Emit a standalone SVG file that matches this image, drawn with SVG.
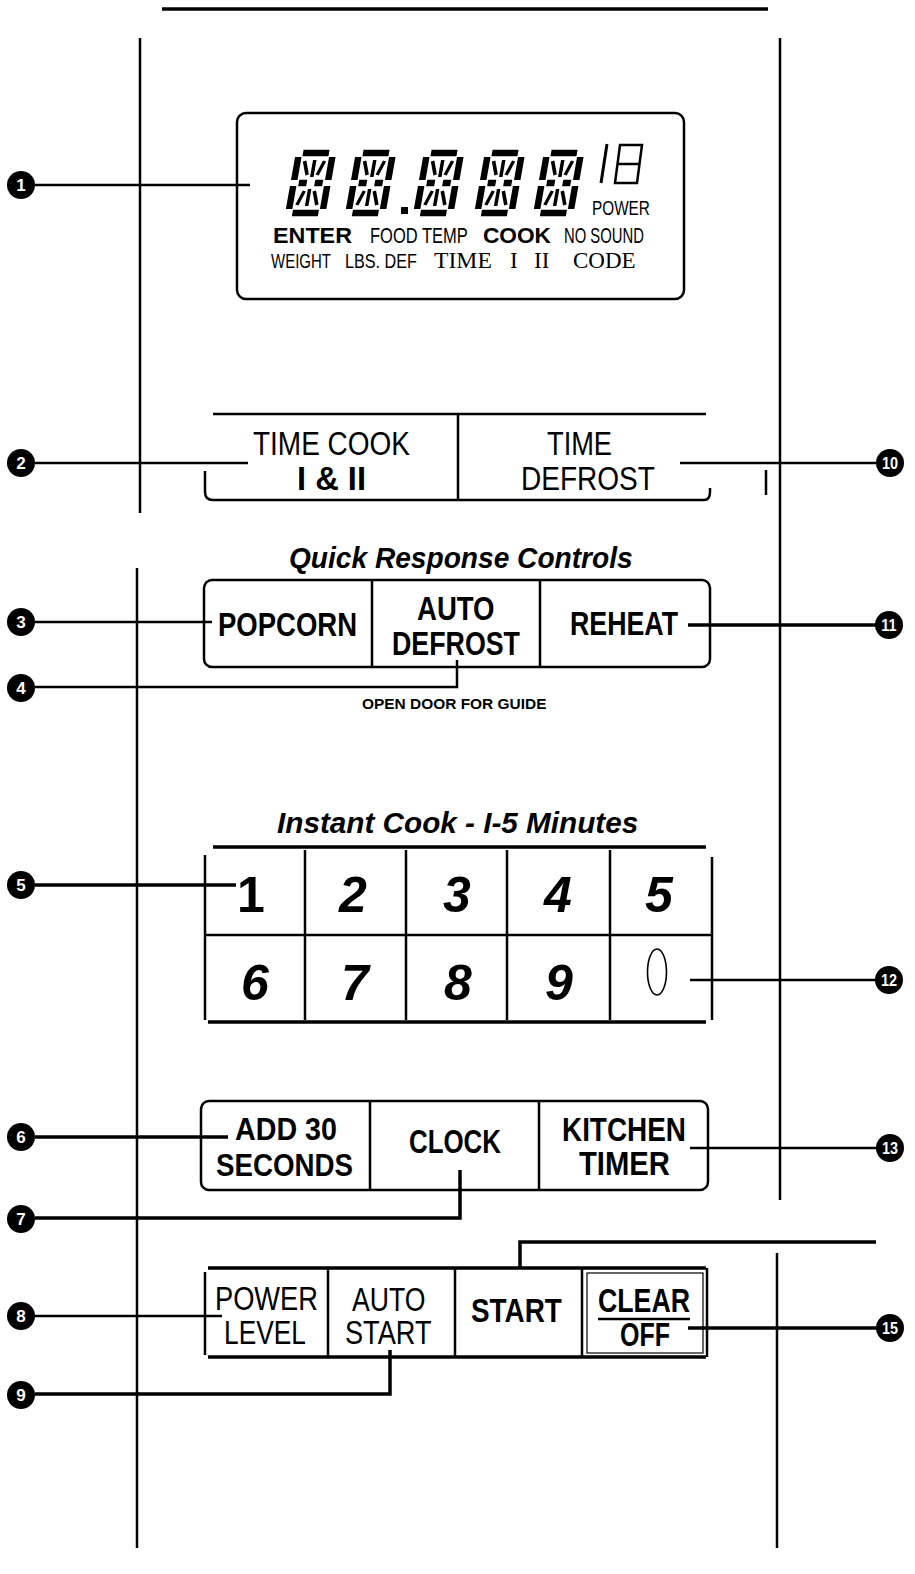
<svg xmlns="http://www.w3.org/2000/svg" xmlns:xlink="http://www.w3.org/1999/xlink" width="915" height="1574" viewBox="0 0 915 1574">
<style>
.ln{stroke:#000;stroke-width:2.5;fill:none}
.th{stroke:#000;stroke-width:3.5;fill:none}
.frame{stroke:#000;stroke-width:2.5;fill:none}
.t{font-family:"Liberation Sans",Arial,sans-serif;fill:#000}
.b{font-weight:bold}
.s{font-family:"Liberation Serif","Times New Roman",serif;fill:#000}
.num{font-family:"Liberation Sans",Arial,sans-serif;font-weight:bold;fill:#fff;font-size:17px;text-anchor:middle}
.seg{stroke:#000;stroke-width:6.5;fill:none}
.dg{stroke:#000;stroke-width:3.5;fill:none}
</style>
<defs>
<g id="dig">
<path class="seg" d="M4 0H30M0 4V27M0 33V56M34 4V27M34 33V56M4 60H30M5 30H13M21 30H29"/>
<path class="dg" d="M17 7V24M17 36V53M7 8L12 22M27 8L22 22M7 52L12 38M27 52L22 38"/>
</g>
<circle id="cc" r="14" fill="#000"/>
</defs>

<g id="panel">
<path class="th" d="M162 9H768"/>
<path class="ln" d="M140 38V513M137 568V1548M780 38V1200M777 1253V1548M766 470V495"/>
</g>

<g id="display">
<rect x="237" y="113" width="447" height="186" rx="9" class="frame" stroke-width="3"/>
<use xlink:href="#dig" transform="translate(299,153) skewX(-10)"/>
<use xlink:href="#dig" transform="translate(359,153) skewX(-10)"/>
<rect x="401" y="207" width="7" height="7" fill="#000"/>
<use xlink:href="#dig" transform="translate(427,153) skewX(-10)"/>
<use xlink:href="#dig" transform="translate(488,153) skewX(-10)"/>
<use xlink:href="#dig" transform="translate(547,153) skewX(-10)"/>
<path d="M607 144L601 183" stroke="#000" stroke-width="3"/>
<path d="M620 145H642L637 183H615ZM617.5 164H639.5" stroke="#000" stroke-width="2.5" fill="none"/>
<text class="t" font-size="21" transform="translate(592,215) scale(0.73,1)">POWER</text>
<text class="t b" font-size="22" transform="translate(273,243) scale(1.06,1)">ENTER</text>
<text class="t" font-size="22" transform="translate(370,243) scale(0.75,1)">FOOD TEMP</text>
<text class="t b" font-size="22" transform="translate(483,243) scale(1.03,1)">COOK</text>
<text class="t" font-size="22" transform="translate(564,243) scale(0.675,1)">NO SOUND</text>
<text class="t" font-size="21" transform="translate(271,268) scale(0.714,1)">WEIGHT</text>
<text class="t" font-size="21" transform="translate(345,268) scale(0.77,1)">LBS. DEF</text>
<text class="s" font-size="23" transform="translate(434,268) scale(1.03,1)">TIME</text>
<text class="s" x="510" y="268" font-size="23">I</text>
<text class="s" x="534" y="268" font-size="23">II</text>
<text class="s" x="573" y="268" font-size="23">CODE</text>
</g>

<g id="time-row">
<path class="ln" d="M213 414H706M458 414V500M205 471V492Q205 500 213 500H704Q710 500 710 492V488"/>
<text class="t" font-size="33" transform="translate(253,455) scale(0.848,1)">TIME COOK</text>
<text class="t b" font-size="33" transform="translate(297,490) scale(0.99,1)">I &amp; II</text>
<text class="t" font-size="33" transform="translate(547,455) scale(0.825,1)">TIME</text>
<text class="t" font-size="33" transform="translate(521,490) scale(0.85,1)">DEFROST</text>
</g>

<g id="quick">
<text class="t b" font-size="29" font-style="italic" transform="translate(289,568) scale(0.97,1)">Quick <tspan font-weight="900">Response</tspan> Controls</text>
<rect x="204" y="580" width="506" height="87" rx="8" class="frame"/>
<path class="ln" d="M372 580V667M540 580V667"/>
<text class="t b" font-size="34" transform="translate(218,636) scale(0.809,1)">POPCORN</text>
<text class="t b" font-size="34" transform="translate(417,620) scale(0.81,1)">AUTO</text>
<text class="t b" font-size="34" transform="translate(392,655) scale(0.788,1)">DEFROST</text>
<text class="t b" font-size="34" transform="translate(570,635) scale(0.787,1)">REHEAT</text>
<text class="t b" font-size="15" transform="translate(362,709) scale(1.03,1)">OPEN DOOR FOR GUIDE</text>
</g>

<g id="keypad">
<text class="t b" font-size="30" font-style="italic" transform="translate(277,833) scale(0.99,1)">Instant Cook - I-5 Minutes</text>
<path class="th" d="M213 847H706M208 1022H706"/>
<path class="ln" d="M205 855V1020M712 857V1020M205 935H712M305 850V1020M406 850V1020M507 850V1020M610 850V1020"/>
<g class="t b" font-size="50" text-anchor="middle" font-style="italic">
<text x="251" y="912" font-style="normal" font-weight="900">1</text>
<text x="353" y="912">2</text>
<text x="457" y="912">3</text>
<text x="558" y="912">4</text>
<text x="659" y="912">5</text>
<text x="255" y="1000">6</text>
<text x="355" y="1000">7</text>
<text x="458" y="1000">8</text>
<text x="559" y="1000">9</text>
</g>
<ellipse cx="657" cy="972" rx="9.5" ry="23" fill="none" stroke="#000" stroke-width="1.6"/>
</g>

<g id="timer-row">
<rect x="201" y="1101" width="507" height="89" rx="8" class="frame"/>
<path class="ln" d="M370 1101V1190M539 1101V1190"/>
<text class="t b" font-size="32" transform="translate(235,1140) scale(0.896,1)">ADD 30</text>
<text class="t b" font-size="32" transform="translate(216,1176) scale(0.866,1)">SECONDS</text>
<text class="t b" font-size="34" transform="translate(409,1153) scale(0.761,1)">CLOCK</text>
<text class="t b" font-size="33" transform="translate(562,1141) scale(0.845,1)">KITCHEN</text>
<text class="t b" font-size="33" transform="translate(579,1175) scale(0.886,1)">TIMER</text>
</g>

<g id="start-row">
<path class="th" d="M208 1268H706M208 1357H706"/>
<path class="ln" d="M205 1272V1355M328 1268V1357M455 1268V1357M582 1268V1357M707 1268V1357"/>
<rect x="587" y="1273" width="116" height="80" fill="none" stroke="#000" stroke-width="1.2"/>
<text class="t" font-size="33" transform="translate(215,1310) scale(0.826,1)">POWER</text>
<text class="t" font-size="33" transform="translate(224,1344) scale(0.798,1)">LEVEL</text>
<text class="t" font-size="33" transform="translate(352,1311) scale(0.807,1)">AUTO</text>
<text class="t" font-size="33" transform="translate(345,1344) scale(0.823,1)">START</text>
<text class="t b" font-size="34" transform="translate(471,1322) scale(0.82,1)">START</text>
<text class="t b" font-size="33" transform="translate(598,1312) scale(0.81,1)">CLEAR</text>
<path d="M598 1319H690" stroke="#000" stroke-width="2.5"/>
<text class="t b" font-size="33" transform="translate(620,1346) scale(0.758,1)">OFF</text>
</g>

<g id="connectors">
<path class="ln" d="M35 185H250"/>
<path class="ln" d="M35 463H248M680 463H877"/>
<path class="ln" d="M35 622H212"/>
<path class="th" d="M688 625H876"/>
<path class="ln" d="M35 687H457V660"/>
<path class="th" d="M35 885H236"/>
<path class="ln" d="M690 980H876"/>
<path class="th" d="M35 1137H228"/>
<path class="ln" d="M690 1148H877"/>
<path class="th" d="M35 1218H460V1170"/>
<path class="th" d="M520 1268V1242H876"/>
<path class="ln" d="M35 1316H222"/>
<path class="th" d="M35 1394H390V1350"/>
<path class="th" d="M688 1328H877"/>
</g>

<g id="callout-1"><use xlink:href="#cc" x="21" y="185"/><text class="num" x="21" y="191">1</text></g>
<g id="callout-2"><use xlink:href="#cc" x="21" y="463"/><text class="num" x="21" y="469">2</text></g>
<g id="callout-3"><use xlink:href="#cc" x="21" y="622"/><text class="num" x="21" y="628">3</text></g>
<g id="callout-4"><use xlink:href="#cc" x="21" y="688"/><text class="num" x="21" y="694">4</text></g>
<g id="callout-5"><use xlink:href="#cc" x="21" y="885"/><text class="num" x="21" y="891">5</text></g>
<g id="callout-6"><use xlink:href="#cc" x="21" y="1137"/><text class="num" x="21" y="1143">6</text></g>
<g id="callout-7"><use xlink:href="#cc" x="21" y="1219"/><text class="num" x="21" y="1225">7</text></g>
<g id="callout-8"><use xlink:href="#cc" x="21" y="1316"/><text class="num" x="21" y="1322">8</text></g>
<g id="callout-9"><use xlink:href="#cc" x="21" y="1395"/><text class="num" x="21" y="1401">9</text></g>
<g id="callout-10"><use xlink:href="#cc" x="890" y="463"/><text class="num" transform="translate(890,469) scale(0.85,1)">10</text></g>
<g id="callout-11"><use xlink:href="#cc" x="889" y="625"/><text class="num" transform="translate(889,631) scale(0.85,1)">11</text></g>
<g id="callout-12"><use xlink:href="#cc" x="889" y="980"/><text class="num" transform="translate(889,986) scale(0.85,1)">12</text></g>
<g id="callout-13"><use xlink:href="#cc" x="890" y="1148"/><text class="num" transform="translate(890,1154) scale(0.85,1)">13</text></g>
<g id="callout-15"><use xlink:href="#cc" x="890" y="1328"/><text class="num" transform="translate(890,1334) scale(0.85,1)">15</text></g>
</svg>
